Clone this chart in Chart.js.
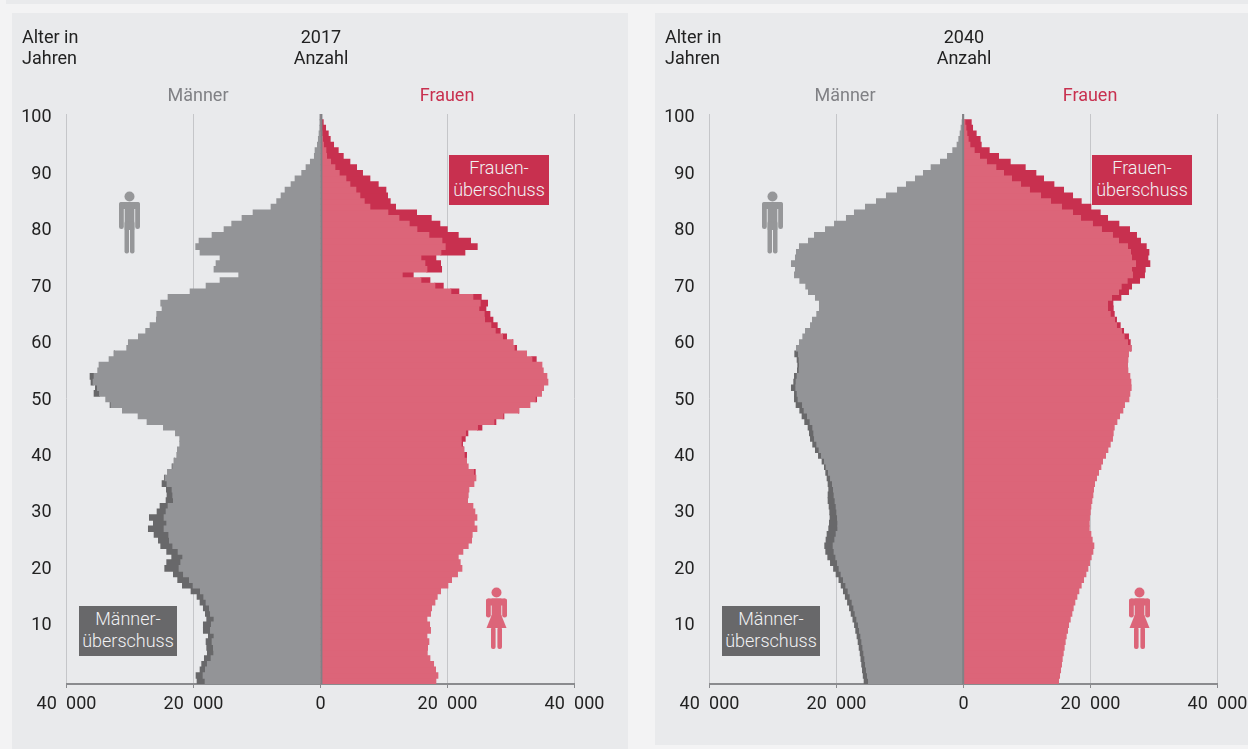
<!DOCTYPE html>
<html lang="de">
<head>
<meta charset="utf-8">
<title>Bevölkerungspyramiden 2017 und 2040</title>
<script src="https://cdn.jsdelivr.net/npm/chart.js@4"></script>
<style>
  html, body { margin: 0; padding: 0; background: #f3f3f4; width: 1248px; height: 749px; overflow: hidden; }
  body { position: relative; font-family: Roboto, sans-serif; font-size: 18px; color: #222; }
  .strip { position: absolute; left: 6px; top: 0; width: 1242px; height: 4px; background: #e9eaec; }
  .panel { position: absolute; top: 13px; background: #e9eaec; }
  .panel canvas { position: absolute; left: 0; top: 0; }
  .txt { position: absolute; white-space: nowrap; line-height: 21px; }
  .mid { transform: translateX(-50%); text-align: center; }
  .box { position: absolute; width: 100px; height: 50px; color: #f1f1f3; text-align: center; line-height: 21.500px; font-weight: 300; }
  .box span { display: block; margin-top: 2px; }
  svg.icon { position: absolute; }
</style>
</head>
<body>
<div class="strip"></div>
<div class="panel" id="p2017" style="left:12px;width:616px;height:736px"><canvas id="c2017" width="616" height="736"></canvas></div>
<div class="panel" id="p2040" style="left:655px;width:593px;height:732px"><canvas id="c2040" width="640" height="732"></canvas></div>
<script>
// index = age, 0 to 100
const ages = Array.from({length: 101}, (_, i) => String(i))
const tickAges = ['10', '20', '30', '40', '50', '60', '70', '80', '90', '100']

const men2017 = [19420,19580,18950,18690,18270,17800,17900,18000,17640,18430,
  18430,17900,18110,18430,18950,19420,20370,21730,22470,23150,
  24510,24200,23410,24200,25140,25510,26190,27090,26300,26930,
  25720,25250,24300,24150,24250,24930,24570,24090,23360,23040,
  22620,22520,22150,22150,22830,24720,27300,28710,31180,33120,
  33810,35640,35430,36120,36270,35070,34860,33280,32490,30500,
  30240,28660,27510,26820,25830,25770,24930,25140,23990,20520,
  18000,15800,12860,16750,16430,15800,18950,19630,19110,17060,
  15170,13960,12340,10600,7770,6880,6190,5560,4620,3990,
  2940,2260,1580,950,840,470,320,210,100,50,30]

const women2017 = [18160,18480,18110,17800,17220,16800,16850,17060,16750,17320,
  17170,16750,17320,17480,18010,18370,18900,20050,20630,21570,
  22260,21990,21680,22410,23250,23780,23880,24620,24200,24620,
  24300,23990,23150,23250,23360,24150,24460,24360,23250,22990,
  22990,22570,22360,22780,23200,25410,27610,28870,31230,32970,
  34020,34800,35120,35800,35640,35070,34860,33960,32440,30870,
  30290,29290,28290,27820,27140,26670,26040,26300,25300,21780,
  19320,17220,14590,19060,18900,18160,22730,24670,23620,21680,
  19950,18790,17430,15120,11810,10970,10550,10290,9080,7770,
  6610,5670,4620,3570,2780,2050,1520,1210,790,420,160]

const men2040 = [15640,15780,15900,16020,16140,16260,16420,16580,16750,16960,
  17150,17400,17680,17940,18250,18600,18900,19250,19600,20050,
  20450,20940,21360,21680,21840,21630,21470,21210,21100,21000,
  21050,21150,21310,21310,21210,21310,21470,21680,21890,22260,
  22830,23310,23730,24090,24250,24460,24990,25410,25770,26350,
  26610,26610,27090,26720,26610,26140,26090,26190,26560,26300,
  25830,25300,24880,24090,23780,23100,22680,22680,23310,24410,
  24830,25770,26610,26460,27090,26460,26300,25830,24410,23460,
  21730,20310,18430,17170,15430,13700,12130,10390,8980,7560,
  6300,5090,3620,2520,1680,1000,730,520,370,210,50]

const women2040 = [14960,15120,15280,15430,15540,15700,15850,16010,16170,16380,
  16540,16800,17060,17270,17530,17850,18160,18530,18900,19270,
  19580,19840,20100,20370,20520,20260,20050,19790,19790,19840,
  19950,20050,20210,20370,20470,20630,20940,21260,21630,21890,
  22360,22730,23100,23460,23570,23730,24150,24570,25090,25350,
  26040,26190,26400,26350,26190,25880,25830,25880,25980,26400,
  26250,25980,25200,24670,24090,23730,23570,23520,24780,25980,
  26460,27720,28500,28610,29340,29030,29190,28770,27870,27240,
  26140,24460,22680,21520,20050,18530,17170,15750,14230,12600,
  11390,9710,7350,5510,4040,2780,2620,1990,1420,1210,0]

const COL_MEN = '#939497'
const COL_MEN_DARK = '#68686a'
const COL_WOMEN = '#dc6579'
const COL_WOMEN_DARK = '#c8304f'

function fmt(v) {
   v = Math.abs(v)
   if (v === 0) return '0'
   return Math.floor(v / 1000) + '\u2002' + String(v % 1000).padStart(3, '0')
}

// zero line sits on top of the bars
const zeroLine = {
   id: 'zeroLine',
   afterDatasetsDraw(chart, args, opts) {
      const {ctx, chartArea, scales} = chart
      const x = scales.x.getPixelForValue(0) + opts.shift
      ctx.save()
      ctx.strokeStyle = '#808185'
      ctx.lineWidth = 2
      ctx.beginPath()
      ctx.moveTo(x, chartArea.top)
      ctx.lineTo(x, chartArea.bottom)
      ctx.stroke()
      ctx.restore()
   }
}

function pyramid(id, men, women, rightPad, axisHeight, shift) {
   const common = men.map((m, i) => Math.min(m, women[i]))
   return new Chart(document.getElementById(id), {
      type: 'bar',
      plugins: [zeroLine],
      data: {
         labels: ages,
         datasets: [
            {label: 'Männer', data: common.map(v => -v), backgroundColor: COL_MEN},
            {label: 'Männerüberschuss', data: men.map((m, i) => m > common[i] ? common[i] - m : null), backgroundColor: COL_MEN_DARK},
            {label: 'Frauen', data: common, backgroundColor: COL_WOMEN},
            {label: 'Frauenüberschuss', data: women.map((w, i) => w > common[i] ? w - common[i] : null), backgroundColor: COL_WOMEN_DARK}
         ]
      },
      options: {
         indexAxis: 'y',
         responsive: false,
         animation: false,
         barPercentage: 1,
         categoryPercentage: 1,
         inflateAmount: 0.5,
         layout: {padding: {left: 0, right: rightPad, top: 101, bottom: 0}},
         plugins: {legend: {display: false}, tooltip: {enabled: false}, zeroLine: {shift: shift}},
         scales: {
            x: {
               stacked: true,
               min: -40000,
               max: 40000,
               afterFit: s => { s.height = axisHeight },
               border: {display: true, color: '#8a8b8e', width: 2},
               grid: {color: '#c5c6c9', lineWidth: 1, tickLength: 4, tickColor: '#8a8b8e', tickWidth: 1},
               ticks: {
                  stepSize: 20000,
                  maxRotation: 0,
                  padding: 6,
                  color: '#222',
                  font: {family: 'Roboto', size: 18},
                  callback: v => fmt(v)
               }
            },
            y: {
               stacked: true,
               reverse: true,
               afterFit: s => { s.width = 54.5 },
               border: {display: false},
               grid: {display: false, drawTicks: false},
               ticks: {
                  autoSkip: false,
                  padding: 15,
                  labelOffset: 1,
                  color: '#222',
                  font: {family: 'Roboto', size: 18},
                  callback: function (v) {
                     const a = this.getLabelForValue(v)
                     return tickAges.includes(a) ? a : ''
                  }
               }
            }
         }
      }
   })
}

pyramid('c2017', men2017, women2017, 53.5, 65, 0.9)
pyramid('c2040', men2040, women2040, 77.5, 61, -0.3)

const MAN = '<circle cx="10.500" cy="5.500" r="5"/>' +
   '<rect x="0" y="11" width="4.800" height="27" rx="2.300"/><rect x="16.200" y="11" width="4.800" height="27" rx="2.300"/>' +
   '<rect x="0" y="11" width="21" height="7" rx="3"/><rect x="5.700" y="11" width="9.600" height="28"/>' +
   '<rect x="5.500" y="30" width="4.500" height="32.500" rx="2"/><rect x="11" y="30" width="4.500" height="32.500" rx="2"/>'
const WOMAN = '<circle cx="10.500" cy="5.500" r="5"/>' +
   '<rect x="0" y="11.500" width="4.800" height="19" rx="2.300"/><rect x="16.200" y="11.500" width="4.800" height="19" rx="2.300"/>' +
   '<rect x="0" y="11.500" width="21" height="7" rx="3"/><rect x="5.700" y="11.500" width="9.600" height="18"/>' +
   '<polygon points="5.700,28 15.300,28 20.500,41 0.500,41"/>' +
   '<rect x="5" y="40" width="4.600" height="22" rx="2"/><rect x="11.400" y="40" width="4.600" height="22" rx="2"/>'

// texts and decorations per panel, x relative to the 2017 panel
function decorate(year, dx) {
   const add = (html) => document.body.insertAdjacentHTML('beforeend', html)
   add(`<div class="txt" style="left:${22 + dx}px;top:26px">Alter in<br>Jahren</div>`)
   add(`<div class="txt mid" style="left:${321 + dx}px;top:26px">${year}<br>Anzahl</div>`)
   add(`<div class="txt mid" style="left:${dx ? 845 : 198}px;top:84px;color:#808185">Männer</div>`)
   add(`<div class="txt mid" style="left:${447 + dx}px;top:84px;color:#c8304f">Frauen</div>`)
   add(`<div class="box" style="left:${449 + dx}px;top:155px;background:#c8304f"><span>Frauen-<br>überschuss</span></div>`)
   add(`<div class="box" style="left:${79 + dx}px;top:606px;width:98px;background:#68686a"><span>Männer-<br>überschuss</span></div>`)
   add(`<svg class="icon" style="left:${119 + dx}px;top:191px" width="21" height="63" fill="#969799">${MAN}</svg>`)
   add(`<svg class="icon" style="left:${486 + dx}px;top:587px" width="21" height="63" fill="#dc6579">${WOMAN}</svg>`)
}
decorate('2017', 0)
decorate('2040', 643)
</script>
</body>
</html>
